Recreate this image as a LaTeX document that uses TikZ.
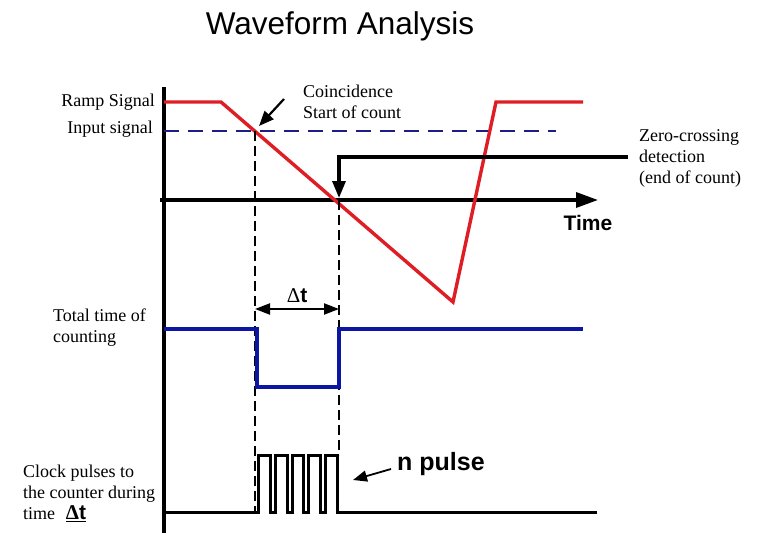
\documentclass[tikz,border=0pt]{standalone}
\usepackage{fontspec}
\setmainfont{Liberation Serif}
\setsansfont{Liberation Sans}
\usetikzlibrary{arrows.meta}
\definecolor{rampred}{RGB}{222,30,36}
\definecolor{totblue}{RGB}{12,22,165}
\definecolor{inblue}{RGB}{30,30,130}
\tikzset{
  lbl/.style={font=\fontsize{18}{21}\selectfont, inner sep=0pt, align=left},
  boldlbl/.style={font=\sffamily\bfseries\fontsize{21}{24}\selectfont, inner sep=0pt},
  axisline/.style={line width=3.4pt, black},
  rampline/.style={line width=3.4pt, rampred, line join=miter},
  totline/.style={line width=3.2pt, totblue, line join=miter},
  inputline/.style={line width=1.9pt, inblue, dash pattern=on 15pt off 9pt},
  guide/.style={line width=1.8pt, black, dash pattern=on 10pt off 5pt},
  pulseline/.style={line width=3pt, black, line join=miter},
  bigtip/.style={-{Triangle[length=22pt,width=15pt]}},
}
\begin{document}
\begin{tikzpicture}[x=1pt,y=-1pt]
\useasboundingbox (0,0) rectangle (760,543);
\fill[white] (0,0) rectangle (760,543);

% title
\node[font=\sffamily\fontsize{31.5}{36}\selectfont, inner sep=0pt] (title) at (340,26) {Waveform Analysis};

% key coordinates
\coordinate (vtop) at (164,87);
\coordinate (vbot) at (164,533);
\coordinate (tstart) at (160,200);
\coordinate (tend) at (598,200);
\coordinate (coin) at (255,131);
\coordinate (zero) at (339,200);

% vertical axis
\draw[axisline] (vtop) -- (vbot);
% time axis
\draw[axisline, bigtip] (tstart) -- (tend);
\node[boldlbl] (time) at (588,223) {Time};

% input signal (dashed)
\coordinate (in0) at (164,131);
\coordinate (in1) at (556,131);
\draw[inputline] (in0) -- (in1);

% ramp signal
\coordinate (r0) at (164,102);
\coordinate (r1) at (221,102);
\coordinate (r2) at (453,302);
\coordinate (r3) at (496,102);
\coordinate (r4) at (583,102);
\draw[rampline] (r0) -- (r1) -- (r2) -- (r3) -- (r4);

% dashed guide lines
\coordinate (g0b) at (255,512);
\coordinate (g1b) at (339,455);
\draw[guide] (coin) -- (g0b);
\draw[guide] (zero) -- (g1b);

% zero-crossing arrow
\coordinate (z0) at (628,157);
\coordinate (z1) at (339,157);
\coordinate (z2) at (339,198);
\draw[line width=3.2pt, -{Triangle[length=17pt,width=13pt]}] (z0) -- (z1) -- (z2);
\node[lbl, anchor=west] (zlbl) at (639,158) {Zero-crossing\\detection\\(end of count)};

% coincidence arrow
\node[lbl, align=center] (coinlbl) at (348,102) {Coincidence\\\hspace*{8pt}Start of count};
\coordinate (c0) at (284,99);
\coordinate (c1) at (259,126);
\draw[line width=2.2pt, -{Triangle[length=15pt,width=12pt]}] (c0) -- (c1);

% left labels
\node[lbl, anchor=east] (ramplbl) at (155,102) {Ramp Signal};
\node[lbl, anchor=east] (inlbl) at (153,129) {Input signal};
\node[lbl, anchor=west] (totlbl) at (53,328) {Total time of\\counting};
\node[lbl, anchor=west] (clklbl) at (23,493) {Clock pulses to\\the counter during\\time\hspace{0.6em}{\fontsize{21}{21}\selectfont\underline{\textbf{Δ}\textsf{\textbf{t}}}}};

% delta t arrow
\coordinate (d0) at (255,309);
\coordinate (d1) at (339,309);
\draw[line width=2.2pt, {Triangle[length=15pt,width=11pt]}-{Triangle[length=15pt,width=11pt]}] (d0) -- (d1);
\node[inner sep=0pt, font=\fontsize{21}{24}\selectfont] (dlbl) at (297,296) {Δ\textsf{\textbf{t}}};

% total time of counting
\draw[totline] (164,329) -- (257,329) -- (257,387) -- (339,387) -- (339,329) -- (583,329);

% clock pulses
\draw[pulseline] (164,512) -- (258,512)
  -- (258,455) -- (270,455) -- (270,512) -- (275,512)
  -- (275,455) -- (287,455) -- (287,512) -- (292,512)
  -- (292,455) -- (303,455) -- (303,512) -- (308,512)
  -- (308,455) -- (320,455) -- (320,512) -- (325,512)
  -- (325,455) -- (337,455) -- (337,512) -- (597,512);

% n pulse
\node[font=\sffamily\bfseries\fontsize{25}{28}\selectfont, inner sep=0pt, anchor=west] (nlbl) at (397,464) {n pulse};
\coordinate (n0) at (391,469);
\coordinate (n1) at (353,480);
\draw[line width=1.8pt, -{Triangle[length=14pt,width=11pt]}] (n0) -- (n1);
\end{tikzpicture}
\end{document}
